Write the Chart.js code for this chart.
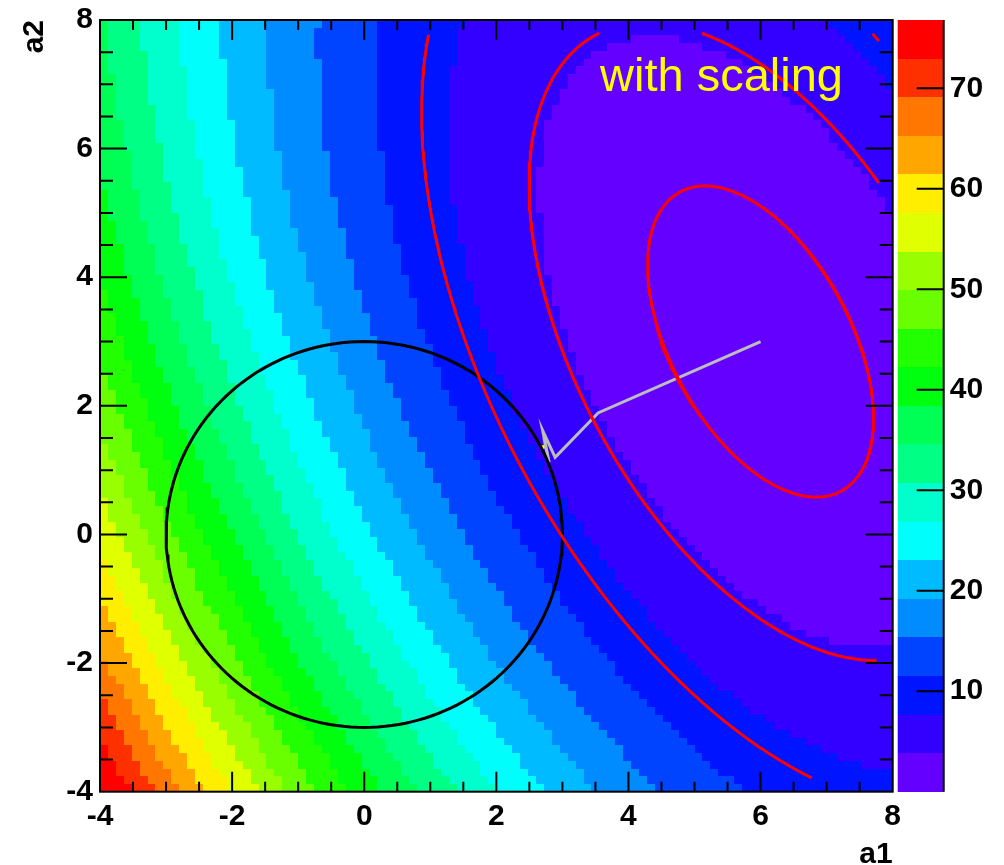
<!DOCTYPE html>
<html lang="en">
<head>
  <meta charset="UTF-8">
  <title>with scaling</title>
  <script src="https://cdn.jsdelivr.net/npm/chart.js"></script>
  <style>
    body { margin: 0; background: #ffffff; }
  </style>
</head>
<body>
  <canvas id="grafico" width="1004" height="865"></canvas>

<script>
  // eixos
  const a1Range = [-4, 8];
  const a2Range = [-4, 8];
  const axisTicks = [-4, -2, 0, 2, 4, 6, 8];
  const nBins = 100;

  // escala de cores (colz)
  const zMin = 0;
  const zMax = 76.8;
  const zTicks = [10, 20, 30, 40, 50, 60, 70];
  const nLevels = 20;

  const minimo = [6, 3];
  const coefs = [0.451, 0.2254, 0.3137];
  const contourLevels = [1, 4.2, 9];
  const contourLimit = [-3.8, 7.8];

  // circulo de restricao a1^2 + a2^2 = 9
  const circleRadius = 3;

  // caminho da minimizacao
  const pathA1 = [6.0, 3.54, 2.89, 2.70, 2.80, 2.72, 2.76];
  const pathA2 = [3.0, 1.89, 1.20, 1.62, 1.12, 1.50, 1.30];
  const lastPoint = [2.71, 1.36];

  const anotacao = { text: 'with scaling', a1: 3.57, a2: 6.9 };

  // paleta "pretty" do ROOT, 20 niveis
  const palette = ['#6300ff', '#3300ff', '#0014ff', '#0044ff', '#008bff', '#00bbff', '#00fffc',
    '#00ffcc', '#00ff85', '#00ff55', '#00ff0e', '#22ff00', '#69ff00', '#99ff00', '#e0ff00',
    '#ffee00', '#ffa700', '#ff7700', '#ff3000', '#ff0000'];

  Chart.defaults.font.family = '"Liberation Sans", Arial, Helvetica, sans-serif';
  const fonteEixo = { size: 30, weight: 'bold' };
  const semCor = 'rgba(0,0,0,0)';

  function funcao(a1, a2) {
    const d1 = a1 - minimo[0], d2 = a2 - minimo[1];
    return coefs[0] * d1 * d1 + coefs[1] * d2 * d2 + coefs[2] * d1 * d2;
  }

  // pontos de uma curva de nivel (elipse) cortada na grade do contorno
  function contorno(nivel) {
    let pts = [];
    for (let i = 0; i <= 720; i++) {
      const t = i / 720 * 2 * Math.PI;
      const u = Math.cos(t), v = Math.sin(t);
      const q = coefs[0] * u * u + coefs[1] * v * v + coefs[2] * u * v;
      const r = Math.sqrt(nivel / q);
      const x = minimo[0] + r * u, y = minimo[1] + r * v;
      if (x < contourLimit[0] || x > contourLimit[1] || y < contourLimit[0] || y > contourLimit[1]) {
        pts.push({ x: x, y: null });
      } else {
        pts.push({ x: x, y: y });
      }
    }
    return pts;
  }

  let circulo = [];
  for (let i = 0; i <= 180; i++) {
    const t = i / 180 * 2 * Math.PI;
    circulo.push({ x: circleRadius * Math.cos(t), y: circleRadius * Math.sin(t) });
  }

  let caminho = [];
  for (let i = 0; i < pathA1.length; i++) {
    caminho.push({ x: pathA1[i], y: pathA2[i] });
  }

  let datasets = [];
  for (let i = 0; i < contourLevels.length; i++) {
    datasets.push({
      data: contorno(contourLevels[i]), showLine: true, spanGaps: false,
      borderColor: '#ff0000', borderWidth: 3, pointRadius: 0
    });
  }
  datasets.push({ data: circulo, showLine: true, borderColor: '#000000', borderWidth: 3, pointRadius: 0 });
  datasets.push({ data: caminho, showLine: true, borderColor: '#bdbdbd', borderWidth: 3, pointRadius: 0 });
  datasets.push({
    data: [{ x: lastPoint[0], y: lastPoint[1] }], showLine: false,
    pointRadius: 2, pointBackgroundColor: '#ffff00', pointBorderWidth: 0
  });

  function corDoValor(f) {
    let k = Math.floor((f - zMin) / (zMax - zMin) * nLevels);
    if (k < 0) k = 0;
    if (k > nLevels - 1) k = nLevels - 1;
    return palette[k];
  }

  // desenha as celulas do histograma 2D
  const mapaCores = {
    id: 'mapaCores',
    beforeDatasetsDraw(chart) {
      const { ctx, scales: { x, y } } = chart;
      const w1 = (a1Range[1] - a1Range[0]) / nBins;
      const w2 = (a2Range[1] - a2Range[0]) / nBins;
      ctx.save();
      for (let i = 0; i < nBins; i++) {
        const x0 = Math.round(x.getPixelForValue(a1Range[0] + i * w1));
        const x1 = Math.round(x.getPixelForValue(a1Range[0] + (i + 1) * w1));
        for (let j = 0; j < nBins; j++) {
          const y0 = Math.round(y.getPixelForValue(a2Range[0] + j * w2));
          const y1 = Math.round(y.getPixelForValue(a2Range[0] + (j + 1) * w2));
          ctx.fillStyle = corDoValor(funcao(a1Range[0] + (i + 0.5) * w1, a2Range[0] + (j + 0.5) * w2));
          ctx.fillRect(x0, y1, x1 - x0, y0 - y1);
        }
      }
      ctx.restore();
    }
  };

  // moldura, marcas, barra de cores e texto
  const moldura = {
    id: 'moldura',
    afterDatasetsDraw(chart) {
      const { ctx, chartArea: area, scales: { x, y, z } } = chart;
      ctx.save();
      ctx.strokeStyle = '#000000';
      ctx.lineWidth = 2;
      ctx.beginPath();
      for (let v = a1Range[0] + 0.5; v < a1Range[1]; v += 0.5) {
        const px = x.getPixelForValue(v);
        const len = (v % 2 === 0) ? 20 : 10;
        ctx.moveTo(px, area.bottom); ctx.lineTo(px, area.bottom - len);
        ctx.moveTo(px, area.top); ctx.lineTo(px, area.top + len);
      }
      for (let v = a2Range[0] + 0.5; v < a2Range[1]; v += 0.5) {
        const py = y.getPixelForValue(v);
        const len = (v % 2 === 0) ? 27 : 13;
        ctx.moveTo(area.left, py); ctx.lineTo(area.left + len, py);
        ctx.moveTo(area.right, py); ctx.lineTo(area.right - len, py);
      }
      ctx.stroke();
      ctx.strokeRect(area.left, area.top, area.right - area.left, area.bottom - area.top);

      // barra de cores
      const bx0 = area.right + 5, bx1 = area.right + 51;
      const dz = (zMax - zMin) / nLevels;
      for (let k = 0; k < nLevels; k++) {
        const yb = Math.round(z.getPixelForValue(zMin + k * dz));
        const yt = Math.round(z.getPixelForValue(zMin + (k + 1) * dz));
        ctx.fillStyle = palette[k];
        ctx.fillRect(bx0, yt, bx1 - bx0, yb - yt);
      }
      ctx.beginPath();
      ctx.moveTo(bx1, z.getPixelForValue(zMin));
      ctx.lineTo(bx1, z.getPixelForValue(zMax));
      for (let i = 0; i < zTicks.length; i++) {
        const py = z.getPixelForValue(zTicks[i]);
        ctx.moveTo(bx1, py); ctx.lineTo(bx1 - 27, py);
      }
      ctx.stroke();

      // texto
      ctx.fillStyle = '#ffff00';
      ctx.font = '47px "Liberation Sans", Arial, sans-serif';
      ctx.textBaseline = 'alphabetic';
      ctx.textAlign = 'left';
      ctx.fillText(anotacao.text, x.getPixelForValue(anotacao.a1), y.getPixelForValue(anotacao.a2));
      ctx.restore();
    }
  };

  const config = {
    type: 'scatter',
    data: { datasets: datasets },
    options: {
      responsive: false,
      animation: false,
      layout: { padding: { top: 20, left: 0, right: 0, bottom: 0 } },
      plugins: { legend: { display: false }, tooltip: { enabled: false } },
      scales: {
        x: {
          type: 'linear', min: a1Range[0], max: a1Range[1],
          grid: { display: false, drawTicks: false }, border: { display: false },
          ticks: { padding: 7, color: '#000000', font: fonteEixo, maxRotation: 0 },
          afterBuildTicks: (s) => { s.ticks = axisTicks.map(v => ({ value: v })); },
          title: { display: true, text: 'a1', align: 'end', color: '#000000',
            font: { size: 30, weight: 'bold', lineHeight: 0.7 }, padding: { top: 0, bottom: 0 } },
          afterFit: (s) => { s.height = 73.3; }
        },
        y: {
          type: 'linear', min: a2Range[0], max: a2Range[1],
          grid: { display: true, drawOnChartArea: false, drawTicks: true, tickLength: 5, color: semCor },
          border: { display: false },
          ticks: { padding: 2, color: '#000000', font: fonteEixo },
          afterBuildTicks: (s) => { s.ticks = axisTicks.map(v => ({ value: v })); },
          title: { display: true, text: 'a2', align: 'end', color: '#000000',
            font: { size: 30, weight: 'bold', lineHeight: 1.2 }, padding: { top: 17, bottom: 0 } },
          afterFit: (s) => { s.width = 100; }
        },
        z: {
          type: 'linear', position: 'right', min: zMin, max: zMax,
          grid: { display: true, drawOnChartArea: false, drawTicks: true, tickLength: 55, color: semCor },
          border: { display: false },
          ticks: { padding: 2, color: '#000000', font: fonteEixo },
          afterBuildTicks: (s) => { s.ticks = zTicks.map(v => ({ value: v })); },
          afterFit: (s) => { s.width = 111.3; }
        }
      }
    },
    plugins: [mapaCores, moldura]
  };

  let myChart = new Chart(document.getElementById('grafico'), config);
</script>
</body>
</html>
